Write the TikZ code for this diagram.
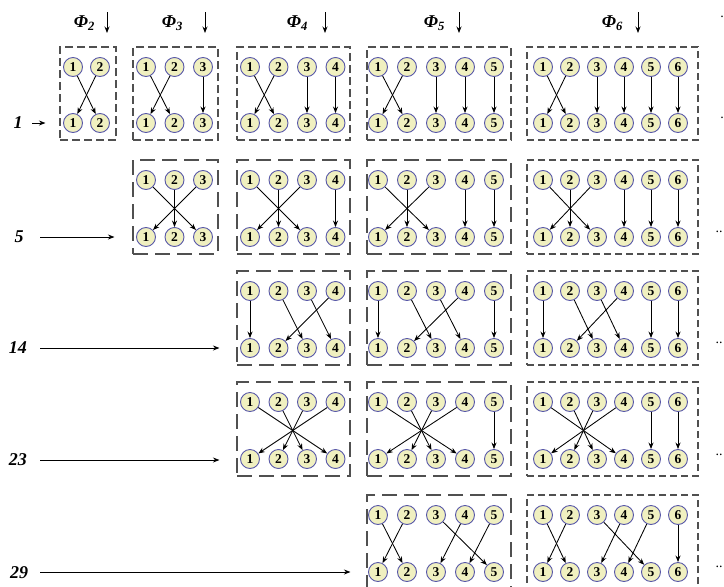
\documentclass[tikz,border=0pt]{standalone}
\usepackage{fontspec}
\setmainfont{Liberation Serif}
\usetikzlibrary{arrows.meta}
\definecolor{circfill}{HTML}{F0F0C0}
\definecolor{circline}{HTML}{5858A8}
\definecolor{boxline}{HTML}{505050}
% column parameters: box left, box right, first circle x, circle spacing
\expandafter\def\csname cL2\endcsname{60}
\expandafter\def\csname cR2\endcsname{116}
\expandafter\def\csname cX2\endcsname{73}
\expandafter\def\csname cD2\endcsname{27}
\expandafter\def\csname cL3\endcsname{133}
\expandafter\def\csname cR3\endcsname{218}
\expandafter\def\csname cX3\endcsname{146}
\expandafter\def\csname cD3\endcsname{28.5}
\expandafter\def\csname cL4\endcsname{237}
\expandafter\def\csname cR4\endcsname{350}
\expandafter\def\csname cX4\endcsname{250}
\expandafter\def\csname cD4\endcsname{28.5}
\expandafter\def\csname cL5\endcsname{367}
\expandafter\def\csname cR5\endcsname{511}
\expandafter\def\csname cX5\endcsname{378}
\expandafter\def\csname cD5\endcsname{29}
\expandafter\def\csname cL6\endcsname{527}
\expandafter\def\csname cR6\endcsname{698}
\expandafter\def\csname cX6\endcsname{543}
\expandafter\def\csname cD6\endcsname{27}
\tikzset{
  circ/.style={circle, draw=circline, fill=circfill, line width=0.9pt, minimum size=19pt, inner sep=0pt, font=\fontsize{13.5}{13.5}\selectfont\bfseries},
  arr/.style={-{Stealth[length=6.5pt,width=5pt]}, line width=0.85pt, black},
  boxbase/.style={draw=boxline, line width=1.1pt, rectangle, inner sep=0pt},
  shortbox/.style={boxbase, dash pattern=on 8pt off 4pt},
  longbox/.style={boxbase, dash pattern=on 15pt off 7pt},
  sixbox/.style={boxbase, dash pattern=on 7pt off 4pt},
  hdr/.style={font=\fontsize{18}{18}\selectfont\bfseries\itshape, anchor=east, inner sep=0pt},
  lab/.style={font=\fontsize{18}{18}\selectfont\bfseries\itshape},
  dots/.style={font=\fontsize{14}{14}\selectfont}
}
% #1 row tag, #2 column size n, #3 top circle y, #4 bottom circle y, #5 box style, #6 mapping i/j, #7 number of mapped
\newcommand\pbox[7]{%
  \edef\Lx{\csname cL#2\endcsname}\edef\Rx{\csname cR#2\endcsname}%
  \edef\Xo{\csname cX#2\endcsname}\edef\Dx{\csname cD#2\endcsname}%
  \pgfmathsetmacro\bt{#3-20}\pgfmathsetmacro\bb{#4+17}%
  \pgfmathsetmacro\bw{\Rx-\Lx}\pgfmathsetmacro\bh{\bb-\bt}%
  \node[#5, minimum width=\bw pt, minimum height=\bh pt] (box#1-#2) at ({(\Lx+\Rx)/2},{(\bt+\bb)/2}) {};
  \foreach \i in {1,...,#2} {
    \node[circ] (t#1-#2-\i) at ({\Xo+(\i-1)*\Dx},#3) {\i};
    \node[circ] (b#1-#2-\i) at ({\Xo+(\i-1)*\Dx},#4) {\i};
  }
  \foreach \i/\j in {#6} {\draw[arr] (t#1-#2-\i) -- (b#1-#2-\j);}
  \pgfmathtruncatemacro\kk{#7+1}%
  \ifnum\kk>#2\relax\else
    \foreach \i in {\kk,...,#2} {\draw[arr] (t#1-#2-\i) -- (b#1-#2-\i);}
  \fi
}
\begin{document}
\begin{tikzpicture}[x=1pt,y=-1pt]
\useasboundingbox (0,0) rectangle (724,587);
% headers
\node[hdr] (h2) at (95,23) {Φ\textsubscript{2}};
\node[hdr] (h3) at (183,23) {Φ\textsubscript{3}};
\node[hdr] (h4) at (308,23) {Φ\textsubscript{4}};
\node[hdr] (h5) at (445,23) {Φ\textsubscript{5}};
\node[hdr] (h6) at (623,23) {Φ\textsubscript{6}};
\foreach \c/\x in {2/107,3/205,4/325,5/459,6/638} {
  \coordinate (hs\c) at (\x,12);
  \coordinate (he\c) at (\x,33);
  \draw[arr] (hs\c) -- (he\c);
}
\node[dots] (dh) at (722,17) {.};
% row 1
\foreach \n/\s in {2/shortbox,3/shortbox,4/shortbox,5/shortbox,6/sixbox} {
  \pbox{r1}{\n}{67}{123}{\s}{1/2,2/1}{2}
}
% row 5 (id 5)
\foreach \n/\s in {3/longbox,4/longbox,5/longbox,6/sixbox} {
  \pbox{r2}{\n}{180}{237}{\s}{1/3,2/2,3/1}{3}
}
% row 14
\foreach \n/\s in {4/longbox,5/longbox,6/sixbox} {
  \pbox{r3}{\n}{291}{348}{\s}{1/1,2/3,3/4,4/2}{4}
}
% row 23
\foreach \n/\s in {4/longbox,5/longbox,6/sixbox} {
  \pbox{r4}{\n}{402}{459}{\s}{1/4,2/3,3/2,4/1}{4}
}
% row 29
\foreach \n/\s in {5/longbox,6/sixbox} {
  \pbox{r5}{\n}{515}{572}{\s}{1/2,2/1,3/5,4/3,5/4}{5}
}
% row labels and arrows
\node[lab] (l1) at (18,123) {1};
\node[lab] (l5) at (19,237) {5};
\node[lab] (l14) at (18,348) {14};
\node[lab] (l23) at (18,460) {23};
\node[lab] (l29) at (19,573) {29};
\coordinate (s1) at (32,123);
\coordinate (s5) at (40,237);
\coordinate (s14) at (40,348);
\coordinate (s23) at (40,460);
\coordinate (s29) at (40,572);
\draw[arr, shorten >=14pt] (s1) -- (s1 -| boxr1-2.west);
\draw[arr, shorten >=18pt] (s5) -- (s5 -| boxr2-3.west);
\draw[arr, shorten >=17pt] (s14) -- (s14 -| boxr3-4.west);
\draw[arr, shorten >=17pt] (s23) -- (s23 -| boxr4-4.west);
\draw[arr, shorten >=16pt] (s29) -- (s29 -| boxr5-5.west);
% trailing dots
\node[dots] (d1) at (722,118) {.};
\node[dots] (d2) at (719,232) {..};
\node[dots] (d3) at (719,343) {..};
\node[dots] (d4) at (719,455) {..};
\node[dots] (d5) at (719,567) {..};
\end{tikzpicture}
\end{document}
